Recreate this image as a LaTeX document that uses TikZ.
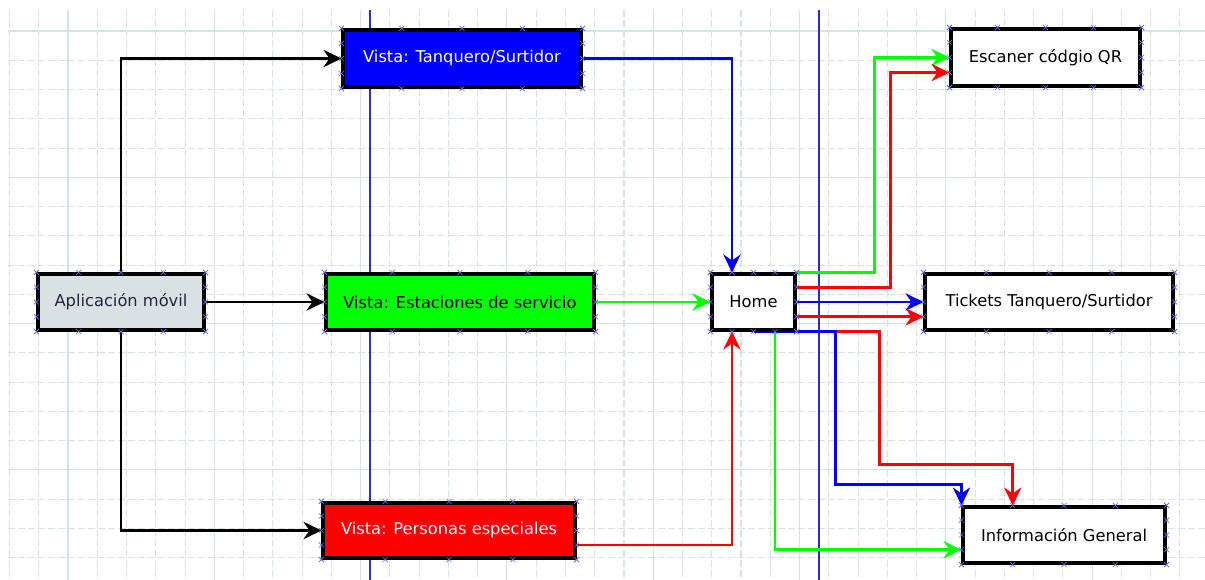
\documentclass[tikz,border=0pt]{standalone}
\usepackage{fontspec}
\setmainfont{DejaVu Sans}
\usetikzlibrary{calc,arrows.meta}
\pgfdeclarelayer{bg}
\pgfsetlayers{bg,main}
\definecolor{gridc}{HTML}{D6E3E3}
\definecolor{vline}{HTML}{2B2BC8}
\definecolor{appfill}{HTML}{D8E2E4}
\definecolor{mk}{HTML}{6B6BE8}
\definecolor{cblue}{HTML}{0000FF}
\definecolor{cgreen}{HTML}{00FF00}
\definecolor{cred}{HTML}{FF0000}
\definecolor{apptext}{HTML}{2A2040}
\newcommand\pmarks[1]{%
  \foreach \t in {0,0.25,0.5,0.75,1}{%
    \draw[xmk] ($(#1.north west)!\t!(#1.north east)$) +(-2.5,-2.5) -- +(2.5,2.5) +(-2.5,2.5) -- +(2.5,-2.5);
    \draw[xmk] ($(#1.south west)!\t!(#1.south east)$) +(-2.5,-2.5) -- +(2.5,2.5) +(-2.5,2.5) -- +(2.5,-2.5);
    \draw[xmk] ($(#1.north west)!\t!(#1.south west)$) +(-2.5,-2.5) -- +(2.5,2.5) +(-2.5,2.5) -- +(2.5,-2.5);
    \draw[xmk] ($(#1.north east)!\t!(#1.south east)$) +(-2.5,-2.5) -- +(2.5,2.5) +(-2.5,2.5) -- +(2.5,-2.5);
  }}
\begin{document}
\begin{tikzpicture}[x=0.75pt,y=-0.75pt,
  box/.style={draw=black,line width=2.3pt,inner sep=0pt,font=\fontsize{12.2}{14}\selectfont},
  conn/.style={line width=2pt,-{Stealth[length=13.5pt,width=13pt,inset=4.5pt]}},
  xmk/.style={draw=mk,line width=0.5pt},
  minorg/.style={draw=gridc,line width=0.8pt,dash pattern=on 5pt off 2.5pt},
  majorg/.style={draw=gridc,line width=0.8pt},
  vguide/.style={draw=vline,line width=0.9pt}]
\useasboundingbox (0,0) rectangle (1205,580);
% nodes
\path
  (121,302)   node[box,fill=appfill,text=apptext,minimum width=124.5pt,minimum height=42pt] (app) {Aplicación móvil}
  (462,58.5)  node[box,fill=cblue,text=white,minimum width=178.5pt,minimum height=42.75pt] (tq) {Vista: Tanquero/Surtidor}
  (460,302)   node[box,fill=cgreen,text=black,minimum width=201pt,minimum height=42pt] (est) {Vista: Estaciones de servicio}
  (449,530.5) node[box,fill=cred,text=white,minimum width=189pt,minimum height=41.25pt] (per) {Vista: Personas especiales}
  (753.5,302) node[box,fill=white,minimum width=62.25pt,minimum height=42pt] (home) {Home}
  (1045.5,57.5) node[box,fill=white,minimum width=141.75pt,minimum height=42.75pt] (qr) {Escaner códgio QR}
  (1049,302)  node[box,fill=white,minimum width=186pt,minimum height=42pt] (tic) {Tickets Tanquero/Surtidor}
  (1064,535)  node[box,fill=white,minimum width=151.5pt,minimum height=42pt] (inf) {Información General};
\pmarks{app}\pmarks{tq}\pmarks{est}\pmarks{per}\pmarks{home}\pmarks{qr}\pmarks{tic}\pmarks{inf}
\begin{pgfonlayer}{bg}
\fill[white] (0,0) rectangle (1205,580);
% grid
\foreach \i in {0,...,40}{
  \pgfmathsetmacro\gx{9.5+29.26*\i}
  \draw[minorg] (\gx,10) -- (\gx,580);
}
\foreach \j in {0,...,18}{
  \pgfmathsetmacro\gy{31+29.26*\j}
  \draw[minorg] (8,\gy) -- (1205,\gy);
}
\foreach \i in {2,7,...,37}{
  \pgfmathsetmacro\gx{9.5+29.26*\i}
  \draw[majorg] (\gx,10) -- (\gx,580);
}
\foreach \j in {0,5,10,15}{
  \pgfmathsetmacro\gy{31+29.26*\j}
  \draw[majorg] (8,\gy) -- (1205,\gy);
}
% guides
\draw[vguide] (370,10) -- (370,580);
\draw[vguide] (819,10) -- (819,580);
% connectors
\draw[conn] (app.north) |- (tq.west);
\draw[conn] (app.east) -- (est.west);
\draw[conn] (app.south) |- (per.west);
\draw[conn,cblue] (tq.east) -| ($(home.north west)!0.25!(home.north east)$);
\draw[conn,cgreen] (est.east) -- (home.west);
\draw[conn,cred] ($(per.north east)!0.75!(per.south east)$) -| ($(home.south west)!0.25!(home.south east)$);
\draw[conn,cgreen] (home.north east) -- ++(78,0) |- (qr.west);
\draw[conn,cred] ($(home.north east)!0.25!(home.south east)$) -- ++(94,0) |- ($(qr.north west)!0.75!(qr.south west)$);
\draw[conn,cblue] (home.east) -- (tic.west);
\draw[conn,cred] ($(home.north east)!0.75!(home.south east)$) -- ($(tic.north west)!0.75!(tic.south west)$);
\draw[conn,cred] (home.south east) -- ++(83,0) -- ++(0,133) -| ($(inf.north west)!0.25!(inf.north east)$);
\draw[conn,cblue] (home.south) -- ++(82,0) -- ++(0,153) -| (inf.north west);
\draw[conn,cgreen] ($(home.south west)!0.75!(home.south east)$) |- ($(inf.north west)!0.75!(inf.south west)$);
\end{pgfonlayer}
\end{tikzpicture}
\end{document}
